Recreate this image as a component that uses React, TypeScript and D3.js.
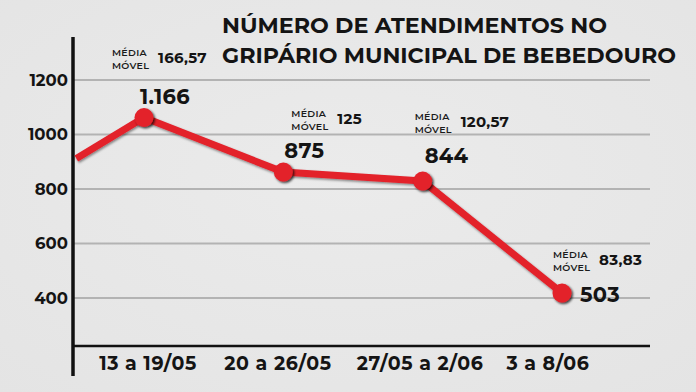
import React from "react";
import * as d3 from "d3";

const categories = ["13 a 19/05", "20 a 26/05", "27/05 a 2/06", "3 a 8/06"];
// plotted heights (the graphic is not drawn to scale)
const plottedValues = [1062, 862, 829, 418];
// value of the segment entering from the previous week (left edge)
const previousWeekValue = 912;
const countLabels = ["1.166", "875", "844", "503"];
const movingAverages = ["166,57", "125", "120,57", "83,83"];
const yTicks = [400, 600, 800, 1000, 1200];
const titleLines = ["NÚMERO DE ATENDIMENTOS NO", "GRIPÁRIO MUNICIPAL DE BEBEDOURO"];

const W = 696;
const H = 392;
const FONT = "Montserrat, Inter, 'Open Sans', sans-serif";

// layout offsets relative to each point
const countOffsets = [
  { dx: -4, dy: -14 },
  { dx: 1, dy: -14 },
  { dx: 2, dy: -18 },
  { dx: 18, dy: 9 },
];
const avgOffsets = [
  { dx: -32, dy: -65 },
  { dx: 8, dy: -58 },
  { dx: -8, dy: -64 },
  { dx: -9, dy: -38 },
];
const xLabelCenters = [148, 278, 420, 548];

export default function App() {
  const axisX = 73;
  const gridRight = 650;
  const baseY = 346;

  const x = d3.scaleLinear().domain([0, categories.length - 1]).range([144, 562]);
  const y = d3.scaleLinear().domain([400, 1200]).range([298, 80]);

  const pts: [number, number][] = plottedValues.map((v, i) => [x(i), y(v)]);
  const allPts: [number, number][] = [[x(-0.5) + 2, y(previousWeekValue)], ...pts];
  const line = d3.line<[number, number]>().x((d) => d[0]).y((d) => d[1]);

  return (
    <svg
      width={W}
      height={H}
      style={{ position: "absolute", left: 0, top: 0, display: "block" }}
      fontFamily={FONT}
    >
      <defs>
        <filter id="sh" x="-50%" y="-50%" width="200%" height="200%">
          <feDropShadow dx="1.5" dy="1.5" stdDeviation="0.8" floodColor="#000" floodOpacity="0.75" />
        </filter>
        <filter id="shl" x="-10%" y="-10%" width="120%" height="120%">
          <feDropShadow dx="1" dy="1.5" stdDeviation="0.8" floodColor="#000" floodOpacity="0.45" />
        </filter>
        <radialGradient id="bg" cx="50%" cy="45%" r="75%">
          <stop offset="0%" stopColor="#ebebeb" />
          <stop offset="100%" stopColor="#e4e4e4" />
        </radialGradient>
      </defs>
      <rect width={W} height={H} fill="url(#bg)" />

      {/* title */}
      {titleLines.map((t, i) => (
        <text
          key={t}
          x={222}
          y={33 + i * 30}
          fontSize={22}
          fontWeight={700}
          fill="#141414"
          textLength={i === 0 ? 385 : 454}
          lengthAdjust="spacingAndGlyphs"
        >
          {t}
        </text>
      ))}

      {/* gridlines */}
      {yTicks.map((t) => (
        <g key={t}>
          <line x1={axisX} x2={gridRight} y1={y(t)} y2={y(t)} stroke="#b3b3b3" strokeWidth={2} />
          <text
            x={68}
            y={y(t)}
            dy="0.36em"
            textAnchor="end"
            fontSize={16.5}
            fontWeight={700}
            fill="#141414"
          >
            {t}
          </text>
        </g>
      ))}

      {/* axes */}
      <line x1={axisX} x2={gridRight} y1={baseY} y2={baseY} stroke="#111" strokeWidth={2.5} />
      <line x1={axisX} x2={axisX} y1={37} y2={376} stroke="#111" strokeWidth={3.5} />

      {/* x labels */}
      {categories.map((c, i) => (
        <text
          key={c}
          x={xLabelCenters[i]}
          y={363}
          dy="0.36em"
          textAnchor="middle"
          fontSize={19}
          fontWeight={700}
          letterSpacing={0.6}
          fill="#141414"
        >
          {c}
        </text>
      ))}

      {/* line */}
      <path
        d={line(allPts) || ""}
        fill="none"
        stroke="#e3202a"
        strokeWidth={7}
        strokeLinejoin="round"
        filter="url(#shl)"
      />
      {pts.map((p, i) => (
        <circle key={i} cx={p[0]} cy={p[1]} r={9.5} fill="#e3202a" filter="url(#sh)" />
      ))}

      {/* labels */}
      {pts.map((p, i) => (
        <text
          key={"c" + i}
          x={p[0] + countOffsets[i].dx}
          y={p[1] + countOffsets[i].dy}
          fontSize={21}
          fontWeight={700}
          letterSpacing={0.3}
          fill="#141414"
        >
          {countLabels[i]}
        </text>
      ))}
      {pts.map((p, i) => {
        const ax = p[0] + avgOffsets[i].dx;
        const ay = p[1] + avgOffsets[i].dy;
        return (
          <g key={"a" + i}>
            <text x={ax} y={ay + 3} fontSize={9.5} fontWeight={600} letterSpacing={0.3} fill="#1a1a1a">
              MÉDIA
            </text>
            <text x={ax} y={ay + 16} fontSize={9.5} fontWeight={600} letterSpacing={0.3} fill="#1a1a1a">
              MÓVEL
            </text>
            <text x={ax + 46} y={ay + 10} fontSize={15} fontWeight={700} letterSpacing={0.3} fill="#141414">
              {movingAverages[i]}
            </text>
          </g>
        );
      })}
    </svg>
  );
}
